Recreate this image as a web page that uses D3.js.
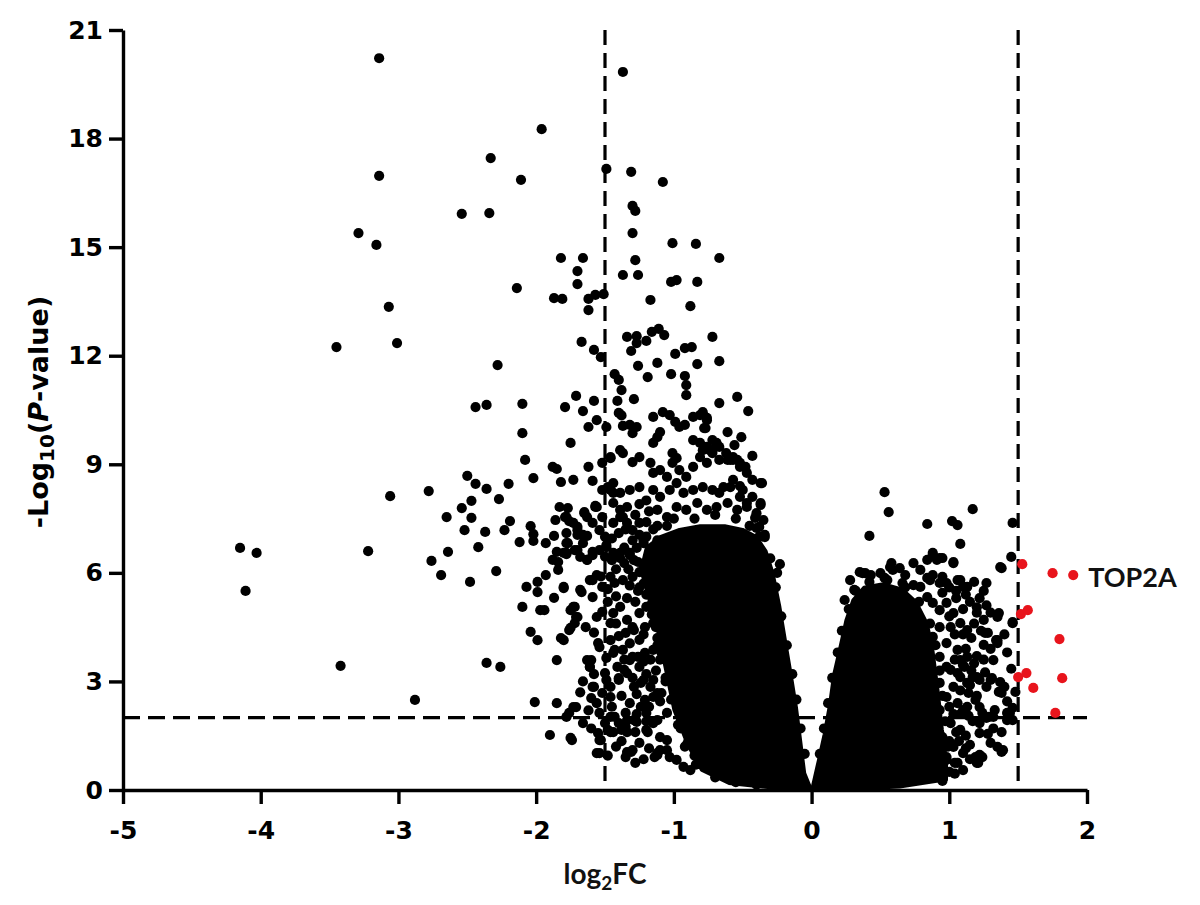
<!DOCTYPE html>
<html><head><meta charset="utf-8">
<script src="https://cdn.jsdelivr.net/npm/d3@7"></script>
<style>
html,body{margin:0;padding:0;background:#fff;}
svg{display:block;}
</style></head>
<body>
<svg id="chart" width="1200" height="905"></svg>
<script>
// ---------------- DATA ----------------
const xTicks = [-5, -4, -3, -2, -1, 0, 1, 2];
const yTicks = [0, 3, 6, 9, 12, 15, 18, 21];
const fcCutoffs = [-1.5, 1.5];
const pCutoff = 2;
const xTitle = ["log", "2", "FC"];
const yTitle = ["-Log", "10", "(", "P", "-value)"];
const labelGene = "TOP2A";
const labelPoint = [1.90, 5.94];

// dense (overplotted) cores of the cloud, outlined in data units [log2FC, -log10P]
const coreDown = [[0,0],[-0.05,0.47],[-0.08,1.38],[-0.11,2.29],[-0.15,3.23],[-0.19,4.14],[-0.23,5.06],[-0.28,6.0],[-0.33,6.6],[-0.40,7.0],[-0.50,7.2],[-0.63,7.3],[-0.81,7.3],[-0.96,7.2],[-1.10,7.0],[-1.20,6.7],[-1.24,6.08],[-1.18,5.25],[-1.12,4.42],[-1.06,3.32],[-1.0,2.21],[-0.90,1.24],[-0.80,0.55],[-0.60,0.18],[-0.30,0.06]];
const coreUp = [[0,0],[0.05,0.83],[0.09,1.52],[0.13,2.35],[0.16,3.18],[0.21,4.01],[0.25,4.70],[0.30,5.25],[0.38,5.6],[0.52,5.7],[0.66,5.55],[0.76,5.2],[0.84,4.6],[0.88,3.9],[0.92,2.7],[0.95,1.66],[0.98,0.83],[0.98,0.28],[0.64,0.08],[0.28,0.02]];

// dots visible along the outline of the dense cores
const edgeDown = [[-0.84,0.7],[-0.92,1.2],[-0.97,1.8],[-1.02,2.5],[-1.06,3.1],[-1.09,3.8],[-1.13,4.5],[-1.17,5.1],[-1.22,5.7],[-1.26,6.3],[-1.22,6.9],[-1.12,7.3],[-1.0,7.5],[-0.85,7.5],[-0.7,7.6],[-0.55,7.5],[-0.45,7.3],[-0.38,7.0],[-0.3,6.4],[-0.26,5.6],[-0.22,4.8],[-0.18,4.0],[-0.14,3.2],[-0.11,2.5],[-0.08,1.7],[-0.05,1.0],[-0.7,0.35],[-0.55,0.22],[-0.4,0.15]];
const edgeUp = [[0.06,1.0],[0.09,1.7],[0.12,2.4],[0.15,3.1],[0.19,3.8],[0.22,4.4],[0.27,5.0],[0.32,5.5],[0.42,5.75],[0.55,5.8],[0.68,5.6],[0.78,5.2],[0.86,4.6],[0.9,4.0],[0.93,3.3],[0.95,2.6],[0.97,1.9],[0.99,1.2],[1.0,0.5]];

// individually visible genes, down side
const pointsFarLeft = [[-4.15,6.69],[-4.03,6.55],[-4.11,5.50],[-3.42,3.43],[-3.45,12.24],[-3.29,15.39],[-3.16,15.06],[-3.07,13.35],[-3.01,12.35],[-3.06,8.12],[-3.22,6.60],[-2.88,2.49],[-3.14,20.22],[-3.14,16.97],[-2.33,17.46],[-2.54,15.92],[-2.34,15.94],[-2.28,11.74],[-2.44,10.58],[-2.36,10.64],[-2.78,8.26],[-2.50,8.68],[-2.44,8.46],[-2.36,8.32],[-2.20,8.46],[-2.27,8.04],[-2.47,7.99],[-2.54,7.79],[-2.65,7.54],[-2.47,7.52],[-2.52,7.18],[-2.37,7.13],[-2.19,7.43],[-2.23,7.18],[-2.42,6.71],[-2.64,6.58],[-2.76,6.33],[-2.69,5.94],[-2.48,5.75],[-2.29,6.05],[-2.36,3.51],[-2.26,3.40]];
const pointsMidLeft = [[-1.96,18.26],[-2.11,16.86],[-2.14,13.87],[-2.10,10.67],[-2.10,9.86],[-2.08,9.12],[-2.02,8.62],[-1.88,8.93],[-1.85,8.87],[-1.82,8.51],[-1.73,8.57],[-1.59,8.54],[-1.62,8.93],[-1.75,9.59],[-1.79,10.58],[-1.71,10.89],[-1.66,10.47],[-1.58,10.75],[-1.62,10.03],[-1.56,10.22],[-1.82,14.7],[-1.66,14.7],[-1.70,14.34],[-1.70,13.98],[-1.87,13.59],[-1.81,13.57],[-1.62,13.57],[-1.57,13.68],[-1.62,13.26],[-1.51,13.7],[-1.67,12.38],[-1.58,12.16],[-1.53,11.96],
[-2.12,6.85],[-2.04,7.29],[-2.02,7.07],[-2.02,6.88],[-1.93,6.82],[-1.86,7.46],[-1.87,7.02],[-1.85,6.58],[-1.88,6.36],[-1.84,6.30],[-1.84,6.08],[-1.77,7.79],[-1.79,7.54],[-1.76,7.43],[-1.70,7.27],[-1.70,7.05],[-1.63,7.02],[-1.70,6.63],[-1.78,6.52],[-1.77,6.82],[-1.65,7.65],[-1.57,7.85],[-1.59,6.58],[-1.63,6.36],[-1.93,5.94],[-1.99,5.75],[-1.99,5.47],[-2.07,5.61],[-1.80,5.58],[-1.87,5.31],[-2.10,5.06],[-1.97,4.97],[-1.94,4.97],[-1.72,5.06],[-1.67,5.47],[-1.59,5.80],[-1.59,5.33],[-1.52,5.61],
[-1.75,4.97],[-1.71,4.78],[-1.72,4.61],[-1.76,4.42],[-1.82,4.20],[-1.99,4.14],[-2.04,4.37],[-1.85,3.59],[-1.60,3.59],[-1.61,3.40],[-1.55,4.06],[-1.58,2.85],[-1.40,3.04],[-1.36,3.32],[-1.49,3.65],[-1.43,3.87],[-1.50,3.23],[-1.46,2.85],[-1.60,2.54],[-1.71,2.29],[-2.01,2.43],[-1.85,2.40],[-1.90,1.52],[-1.75,1.44],[-1.55,1.57],[-1.53,1.38],[-1.56,1.02],[-1.46,1.60],[-1.38,1.66],[-1.35,0.91],[-1.31,1.05],[-1.20,1.66],[-1.12,1.02],[-1.14,0.91],[-1.43,2.02],[-1.35,2.13],[-1.29,1.93],[-1.76,2.13],[-1.78,2.02],[-1.21,2.49],[-1.15,2.57],[-1.09,2.68],[-1.29,2.85],[-1.24,2.96],[-1.15,3.04],[-1.32,3.59],[-1.26,3.68],[-1.21,3.79],[-1.15,3.87],[-1.35,4.34],[-1.29,4.42],[-1.21,4.50],[-1.15,4.61],[-1.09,4.70]];
const pointsFringeLeft = [[-1.78,6.55],[-1.72,6.63],[-1.63,6.36],[-1.59,6.49],[-1.54,6.63],[-1.49,6.77],[-1.44,6.55],[-1.39,6.41],[-1.36,6.27],[-1.32,6.49],[-1.27,6.69],[-1.80,5.61],[-1.68,5.53],[-1.61,5.80],[-1.56,5.94],[-1.46,5.89],[-1.43,5.72],[-1.37,5.80],[-1.30,5.89],[-1.25,6.02],[-1.73,5.06],[-1.70,4.78],[-1.75,4.48],[-1.56,4.78],[-1.52,4.92],[-1.44,4.89],[-1.46,4.61],[-1.39,5.06],[-1.34,4.70],[-1.30,4.50],[-1.25,4.89],[-1.20,5.06],[-1.80,4.14],[-1.63,3.59],[-1.61,3.40],[-1.54,3.95],[-1.46,4.14],[-1.44,3.79],[-1.41,3.40],[-1.49,3.04],[-1.37,3.87],[-1.30,3.68],[-1.25,3.40],[-1.34,3.23],[-1.22,3.04],[-1.17,2.85],[-1.12,2.68],[-1.59,2.85],[-1.73,2.29],[-1.56,2.40],[-1.52,2.68],[-1.46,2.57],[-1.40,3.09],[-1.54,2.13],[-1.46,2.02],[-1.34,1.93],[-1.27,1.88],[-1.20,2.13],[-1.12,1.93],[-1.05,2.13],[-1.74,1.38],[-1.54,1.38],[-1.48,1.66],[-1.44,1.60],[-1.34,1.60],[-1.19,1.60],[-1.10,1.46],[-1.05,1.38],[-1.10,1.10],[-1.12,0.97],[-1.34,1.05],[-1.30,1.10],[-1.54,1.02],[-1.03,0.91],[-0.98,0.83],[-0.93,0.64],[-0.88,0.55],
[-1.20,7.0],[-1.15,7.2],[-1.18,6.5],[-1.12,6.9],[-1.22,6.2],[-1.05,7.3],[-1.25,5.6],[-1.20,5.4],[-1.12,4.2],[-1.10,3.6],[-1.06,3.0],[-1.00,2.5],[-0.95,1.7],[-0.90,1.3],[-0.85,0.95],
[-1.48,0.95],[-1.42,1.2],[-1.38,1.35],[-1.25,1.3],[-1.18,1.15],[-1.22,0.85],[-1.28,0.75],[-1.05,1.1],[-1.15,1.85],[-1.24,2.3],[-1.32,2.4],[-1.38,2.6],[-1.27,2.65],[-1.18,2.3],[-1.10,2.45],[-1.13,3.3],[-1.2,3.2],[-1.3,3.1],[-1.36,3.6],[-1.22,3.55],[-1.17,3.6],[-1.12,4.0],[-1.25,4.15],[-1.32,4.05],[-1.4,4.25],[-1.42,4.6],[-1.22,4.3],[-1.16,4.85],[-1.28,5.2],[-1.34,5.3],[-1.42,5.35],[-1.48,5.2],[-1.26,5.5],[-1.32,5.65],[-1.48,5.55],[-1.53,5.9],[-1.42,6.1],[-1.33,6.1],[-1.29,6.35],[-1.45,6.35],[-1.5,6.45],[-1.36,6.7],[-1.3,6.9],[-1.45,6.95],[-1.25,7.05],[-1.4,7.1],[-1.5,7.0],[-1.35,7.2],[-1.2,7.4],[-1.28,7.6],[-1.18,7.7],[-1.2,8.0],[-1.25,7.9],[-1.58,4.35],[-1.64,4.5],[-1.58,3.2],[-1.66,3.0],[-1.68,2.7],[-1.62,2.2],[-1.66,1.85],[-1.6,1.7],[-1.5,1.85],[-1.45,2.3],[-1.4,1.85],[-1.35,1.75],[-1.28,1.6],[-1.27,2.1],[-1.2,1.9]];
const pointsUpperLeft = [[-1.37,19.84],[-1.49,17.16],[-1.31,17.08],[-1.08,16.8],[-1.30,16.14],[-1.28,16.0],[-1.30,15.39],[-1.01,15.11],[-0.84,15.09],[-1.28,14.64],[-0.67,14.7],[-1.37,14.23],[-1.26,14.23],[-1.02,14.04],[-0.98,14.09],[-0.83,14.04],[-1.17,13.54],[-0.88,13.37],[-1.34,12.52],[-1.27,12.54],[-1.27,12.35],[-1.31,12.13],[-1.20,12.41],[-1.16,12.66],[-1.11,12.74],[-1.07,12.57],[-0.72,12.52],[-0.99,12.05],[-0.92,12.21],[-0.87,12.24],[-1.26,11.72],[-1.12,11.80],[-0.83,11.77],[-0.67,11.85],[-1.19,11.41],[-1.02,11.49],[-0.92,11.44],[-0.91,11.19],[-0.91,10.91],[-1.41,10.75],[-1.29,10.80],[-1.43,11.49],[-1.40,11.33],[-1.38,11.05],[-0.54,10.86],[-0.46,10.47],[-0.67,10.69],[-1.40,10.42],[-1.38,10.35],[-1.49,10.03],[-1.37,10.06],[-1.32,10.09],[-1.27,10.03],[-1.30,9.86],[-1.15,10.31],[-1.10,9.89],[-1.12,9.75],[-1.15,9.59],[-1.08,10.44],[-1.03,10.36],[-0.99,10.17],[-0.96,10.03],[-0.92,10.09],[-0.86,10.31],[-0.81,10.36],[-0.79,10.44],[-0.76,10.28],[-0.77,10.0],[-0.61,9.89],[-0.51,9.75],[-0.56,9.53],[-0.43,9.23],[-1.39,9.39],[-1.37,9.31],[-1.46,9.20],[-1.25,9.20],[-1.30,9.06],[-1.01,9.31],[-0.98,9.17],[-0.86,9.67],[-0.81,9.59],[-0.76,9.48],[-0.72,9.39],[-0.67,9.48],[-0.62,9.31],[-0.57,9.12],[-0.52,9.04],[-0.36,8.48],[-0.37,7.88],[-0.41,7.52],[-0.38,7.27],[-0.34,6.99],
[-1.83,7.82],[-1.78,7.54],[-1.65,7.68],[-1.57,7.82],[-1.70,7.18],[-1.66,7.05],[-1.78,6.82],[-1.52,8.29],[-1.48,8.37],[-1.44,8.48],[-1.52,7.54],[-1.44,7.93],[-1.39,7.74],[-1.37,7.54],[-1.34,7.38],
[-1.52,9.04],[-1.46,9.17],[-1.44,8.21],[-1.46,8.29],[-1.39,8.21],[-1.32,8.29],[-1.25,8.37],[-1.34,7.82],[-1.39,7.54],[-1.44,7.38],[-1.30,7.18],[-1.25,7.38],[-1.22,6.82],[-1.32,6.55],[-1.39,6.55],[-1.49,6.71],[-1.54,7.18],[-1.59,7.38],[-1.63,7.54],[-1.56,7.82],[-1.66,6.82],[-1.73,7.38],[-1.78,7.10],[-1.80,6.55],[-1.68,6.44],
[-1.17,9.04],[-1.15,8.76],[-1.10,8.84],[-1.05,8.65],[-1.01,9.04],[-0.96,8.84],[-0.91,8.65],[-0.86,8.93],[-0.81,9.20],[-0.76,9.04],[-0.72,9.31],[-0.69,9.59],[-0.61,9.12],[-0.57,9.20],[-0.52,8.93],[-0.47,8.76],[-0.43,8.57],[-0.37,8.48],[-1.15,8.29],[-1.10,8.10],[-1.03,8.29],[-0.98,8.48],[-0.93,8.21],[-0.86,8.29],[-0.79,8.37],[-0.72,8.29],[-0.64,8.37],[-0.57,8.57],[-0.50,8.29],[-0.43,8.10],[-0.37,7.93],[-1.12,7.74],[-1.05,7.54],[-0.98,7.82],[-0.91,7.74],[-0.83,7.93],[-0.76,7.74],[-0.69,7.82],[-0.61,7.93],[-0.54,7.74],[-0.47,7.82],[-0.40,7.65],[-0.35,7.46],
[-0.76,10.22],[-0.78,10.0],[-0.72,9.67],[-0.74,9.39],[-0.79,9.39],[-0.48,8.93],[-0.59,9.12],[-0.54,9.12],[-0.67,9.12],[-0.23,6.24],[-0.25,6.0],[-0.59,8.37],[-0.52,8.40],[-0.67,8.21],[-0.52,8.10],[-0.47,7.93],[-0.40,7.24],[-0.34,7.05]];

// individually visible genes, up side (not significant)
const pointsRight = [[0.53,8.23],[0.56,7.68],[0.42,7.02],[0.84,7.35],[1.02,7.43],[1.06,7.32],[1.17,7.76],[1.08,6.80],[1.46,7.38],[1.45,6.44],[1.38,6.13],[1.27,5.72],[1.37,6.16],
[0.74,6.27],[0.88,6.49],[0.91,6.36],[0.95,6.41],[1.03,6.27],[0.88,5.94],[0.84,5.86],[0.95,5.89],[1.10,5.61],[1.13,5.61],[1.06,5.80],
[0.28,5.80],[0.35,6.02],[0.39,5.99],[0.50,5.99],[0.57,6.16],[0.59,6.08],[0.64,6.13],[0.84,6.36],[0.88,6.55],[0.93,6.41],[1.03,6.30],[1.08,5.80],[0.98,5.72],[0.93,5.72],[0.86,5.80],[0.79,5.61],[0.74,5.66],[0.66,5.72],[0.37,5.99],[0.58,6.27],[0.43,5.94],[0.53,5.86],[0.68,5.94],[0.79,6.08],[0.31,5.53],[0.24,5.25],
[1.35,4.84],[1.36,4.89],[1.46,4.61],[1.26,4.34],[1.34,4.14],[1.25,4.01],[1.32,3.59],[1.20,3.12],[1.27,2.85],[1.31,3.09],[1.37,2.98],[1.48,2.71],[1.14,2.68],[1.19,2.49],[1.22,2.29],[1.33,2.21],[1.42,2.13],[1.46,2.27],[1.30,1.30],[1.35,1.19],[1.39,1.10],[1.22,0.97],[1.21,0.75],[1.10,1.02],[1.08,3.59],[1.11,3.40],[1.06,3.23],
[1.19,0.91],[1.04,0.75],[0.98,0.83],[1.38,1.05],[1.22,1.57],[1.28,4.34],[1.35,4.14],[1.21,3.09],[1.30,3.04],[1.36,2.71],[1.24,2.13],[1.27,1.99],[1.29,2.02],[1.46,1.93],[1.44,2.13],[1.35,4.78],[1.46,4.64],[1.10,2.21],
[1.35,4.06],[1.17,3.12],[1.22,3.04],[1.38,2.68],[1.22,1.85],[1.32,2.02],[1.42,1.93],[1.24,0.91],[1.20,0.75],
[0.84,5.33],[0.88,5.17],[0.93,4.97],[0.98,5.17],[1.03,4.89],[1.08,4.61],[1.13,4.42],[1.01,4.50],[0.93,4.50],[0.88,4.23],[0.98,4.06],[1.06,3.87],[1.13,3.68],[0.93,3.68],[1.01,3.32],[1.08,3.12],[1.13,2.96],[0.93,2.96],[0.98,2.57],[1.06,2.40],[0.93,2.21],[1.01,1.85],[1.08,1.66],[0.95,1.46],[1.03,1.19],[0.98,0.91],[0.93,0.75],[0.88,0.55],[0.84,0.36],[1.06,0.75],
[1.15,5.2],[1.20,4.9],[1.10,5.0],[1.18,4.6],[1.05,5.3],[1.22,5.3],[1.16,4.2],[1.12,3.9],[1.20,3.7],[1.00,4.8],[1.25,4.7],[1.13,2.3],[1.17,1.9],[1.12,1.5],[1.15,1.25],[1.05,1.6],[1.03,2.1],[1.20,2.6],[1.16,3.3],
[1.0,5.6],[1.05,5.5],[0.95,5.45],[1.12,5.4],[1.18,5.75],[1.25,5.5],[1.2,5.05],[1.27,5.1],[1.3,4.9],[1.23,4.4],[1.1,4.3],[1.04,4.3],[1.04,3.6],[0.98,3.4],[1.1,3.45],[1.18,3.5],[1.25,3.6],[1.26,3.25],[1.03,2.85],[1.08,2.75],[1.15,2.9],[1.0,2.3],[1.08,2.1],[1.14,2.05],[1.0,1.35],[1.07,1.35],[1.12,1.15],[1.04,0.45],[1.1,0.55],[0.95,0.25],[1.15,0.85],[1.28,1.55],[1.32,1.7],[1.38,1.6],[1.42,2.45],[1.4,2.85],[1.45,3.35],[1.42,3.8],[1.4,4.3],[1.3,3.9]];

// significant up-regulated genes (red)
const pointsSigUp = [[1.53,6.24],[1.75,5.99],[1.90,5.94],[1.52,4.86],[1.57,4.97],[1.80,4.17],[1.50,3.12],[1.56,3.23],[1.82,3.09],[1.61,2.82],[1.77,2.13]];

// ---------------- CHART ----------------
const svg = d3.select("#chart");
const x = d3.scaleLinear().domain([-5, 2]).range([123, 1087]);
const y = d3.scaleLinear().domain([0, 21]).range([790, 30]);
const R = 5.1;

// threshold lines
const thr = svg.append("g").attr("stroke", "#000").attr("stroke-width", 3.2).attr("fill", "none");
thr.selectAll("line.v").data(fcCutoffs).join("line").attr("class", "v")
  .attr("x1", d => x(d)).attr("x2", d => x(d)).attr("y1", y(21)).attr("y2", y(0))
  .attr("stroke-dasharray", "15,8");
thr.append("line").attr("x1", x(-5)).attr("x2", x(2)).attr("y1", y(pCutoff)).attr("y2", y(pCutoff))
  .attr("stroke-dasharray", "17,8");

// dense cores
const area = d3.line().x(d => x(d[0])).y(d => y(d[1])).curve(d3.curveLinearClosed);
svg.append("g").selectAll("path").data([coreDown, coreUp]).join("path")
  .attr("d", area).attr("fill", "#000").attr("stroke", "#000").attr("stroke-width", 3).attr("stroke-linejoin", "round");

// points
const black = [].concat(edgeDown, edgeUp, pointsFarLeft, pointsMidLeft, pointsFringeLeft, pointsUpperLeft, pointsRight);
svg.append("g").selectAll("circle").data(black).join("circle")
  .attr("cx", d => x(d[0])).attr("cy", d => y(d[1])).attr("r", R).attr("fill", "#000");
svg.append("g").selectAll("circle").data(pointsSigUp).join("circle")
  .attr("cx", d => x(d[0])).attr("cy", d => y(d[1])).attr("r", R).attr("fill", "#e8141c");

// axes
const tickFont = "'DejaVu Sans', sans-serif";
const gx = svg.append("g").attr("transform", `translate(0,${y(0)})`)
  .call(d3.axisBottom(x).tickValues(xTicks).tickFormat(d => String(d)).tickSize(14).tickSizeOuter(0).tickPadding(17));
const gy = svg.append("g").attr("transform", `translate(${x(-5)},0)`)
  .call(d3.axisLeft(y).tickValues(yTicks).tickFormat(d => String(d)).tickSize(14).tickSizeOuter(0).tickPadding(6));
[gx, gy].forEach(g => {
  g.select(".domain").attr("stroke", "#000").attr("stroke-width", 3.4);
  g.selectAll(".tick line").attr("stroke", "#000").attr("stroke-width", 3.4);
  g.selectAll(".tick text").attr("fill", "#000").style("font-family", tickFont)
    .style("font-weight", "bold").style("font-size", "25px");
});

// y title
const yt = svg.append("text").attr("transform", "translate(48,412) rotate(-90)")
  .attr("text-anchor", "middle").style("font-family", tickFont).style("font-weight", "bold")
  .style("font-size", "27px").attr("fill", "#000");
yt.append("tspan").text(yTitle[0]);
yt.append("tspan").text(yTitle[1]).attr("dy", 6).style("font-size", "20px");
yt.append("tspan").text(yTitle[2]).attr("dy", -6);
yt.append("tspan").text(yTitle[3]).style("font-style", "italic");
yt.append("tspan").text(yTitle[4]);

// x title
const xt = svg.append("text").attr("x", 605).attr("y", 884).attr("text-anchor", "middle")
  .style("font-family", "Lato, 'Open Sans', sans-serif").style("font-weight", "bold").style("font-size", "28px").attr("fill", "#111");
xt.append("tspan").text(xTitle[0]);
xt.append("tspan").text(xTitle[1]).attr("dy", 6).style("font-size", "19px");
xt.append("tspan").text(xTitle[2]).attr("dy", -6);

// gene label
svg.append("text").attr("x", x(labelPoint[0]) + 15).attr("y", y(labelPoint[1]) + 12)
  .style("font-family", "Lato, 'Open Sans', sans-serif").style("font-weight", "bold").style("font-size", "27px").attr("fill", "#111")
  .text(labelGene);
</script>
</body></html>
